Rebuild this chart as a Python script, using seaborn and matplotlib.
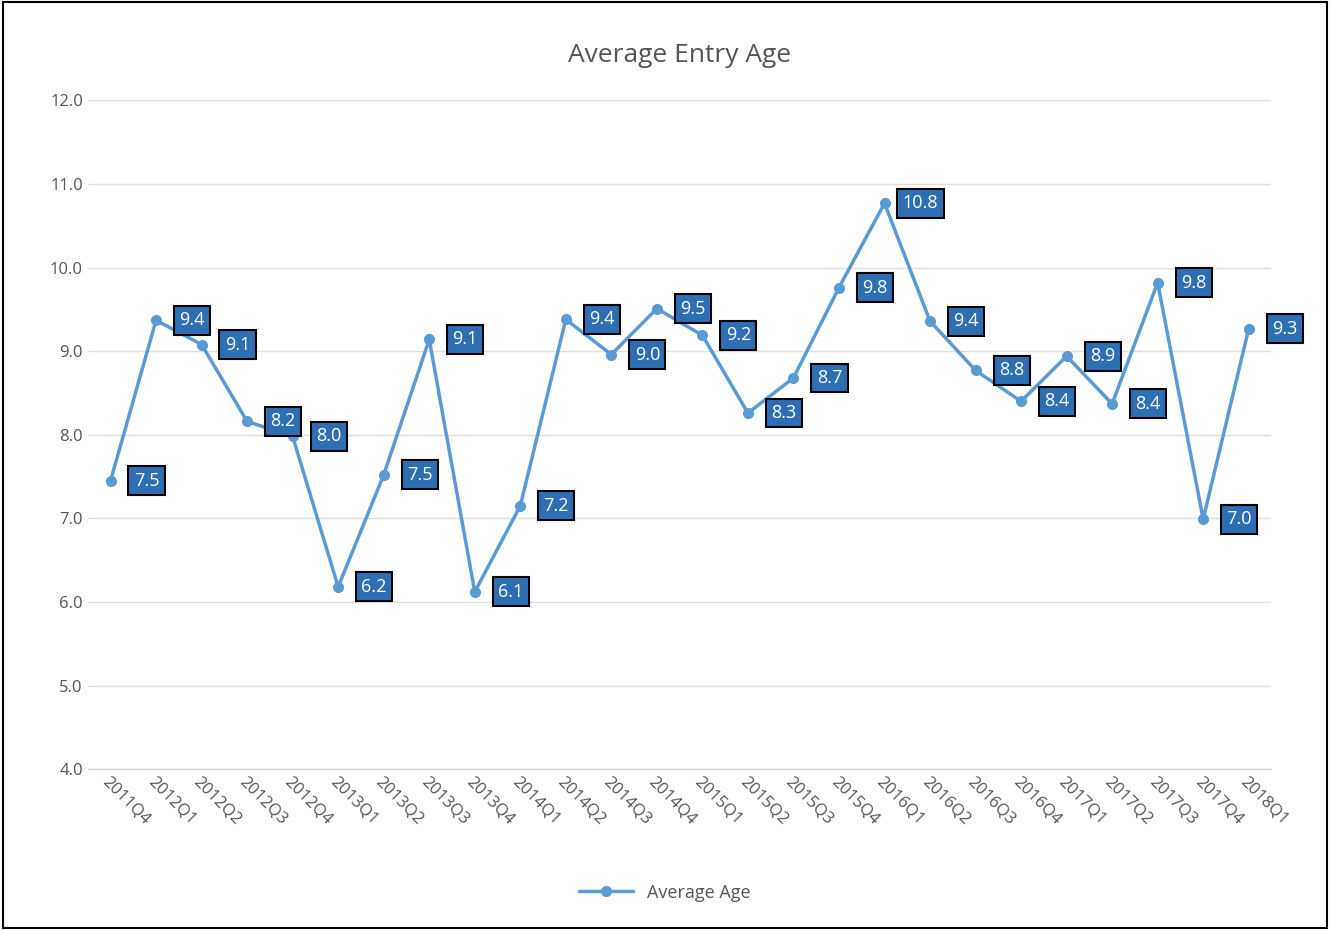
import numpy as np
import pandas as pd
import matplotlib
matplotlib.use("Agg")
import matplotlib.pyplot as plt
import seaborn as sns

quarters = ["2011Q4", "2012Q1", "2012Q2", "2012Q3", "2012Q4", "2013Q1", "2013Q2",
            "2013Q3", "2013Q4", "2014Q1", "2014Q2", "2014Q3", "2014Q4", "2015Q1",
            "2015Q2", "2015Q3", "2015Q4", "2016Q1", "2016Q2", "2016Q3", "2016Q4",
            "2017Q1", "2017Q2", "2017Q3", "2017Q4", "2018Q1"]
avg_age = [7.45, 9.37, 9.08, 8.16, 7.98, 6.18, 7.52, 9.14, 6.12, 7.15, 9.38, 8.96,
           9.51, 9.19, 8.26, 8.68, 9.76, 10.77, 9.36, 8.77, 8.40, 8.94, 8.37, 9.82,
           6.99, 9.27]

df = pd.DataFrame({"quarter": quarters, "age": avg_age})
df["x"] = np.arange(len(df))

sns.set_style("white")
plt.rcParams['font.family'] = ['Open Sans', 'DejaVu Sans']

line_c = "#5b9bd5"
box_c = "#2e6fb3"

fig = plt.figure(figsize=(13.3, 9.3), dpi=100)
ax = fig.add_axes([0.066, 0.173, 0.89, 0.719])
sns.lineplot(data=df, x="x", y="age", ax=ax, color=line_c, lw=2.5, marker="o",
             markersize=8, markeredgewidth=0, label="Average Age")

for xi, yi in zip(df["x"], df["age"]):
    ax.annotate(f"{yi:.1f}", (xi, yi), xytext=(36, 0), textcoords="offset pixels",
                ha="center", va="center", color="white", fontsize=13,
                bbox=dict(boxstyle="square,pad=0.3", fc=box_c, ec="black", lw=1.5))

ax.set_ylim(4, 12)
ax.set_yticks(np.arange(4, 12.1, 1))
ax.set_yticklabels([f"{v:.1f}" for v in np.arange(4, 12.1, 1)], fontsize=12, color="#555555")
ax.set_xlim(-0.5, len(df) - 0.5)
ax.set_xticks(df["x"])
ax.set_xticklabels(quarters, rotation=-45, ha="left", va="top", fontsize=12,
                   color="#555555", rotation_mode="anchor")
ax.tick_params(length=0)
ax.grid(axis="y", color="#e0e0e0", lw=1)
for s in ["top", "right", "left"]:
    ax.spines[s].set_visible(False)
ax.spines["bottom"].set_color("#d0d0d0")
ax.set_xlabel("")
ax.set_ylabel("")
ax.set_title("Average Entry Age", fontsize=19, color="#555555", pad=28)

ax.get_legend().remove()
fig.legend(*ax.get_legend_handles_labels(), loc="center", bbox_to_anchor=(0.5, 0.04),
           frameon=False, fontsize=13, labelcolor="#555555", handlelength=3)

fig.patches.append(plt.Rectangle((0.002, 0.002), 0.996, 0.996, transform=fig.transFigure,
                                 fill=False, ec="black", lw=1.5))
fig.savefig("out.png", dpi=100, facecolor="white")
